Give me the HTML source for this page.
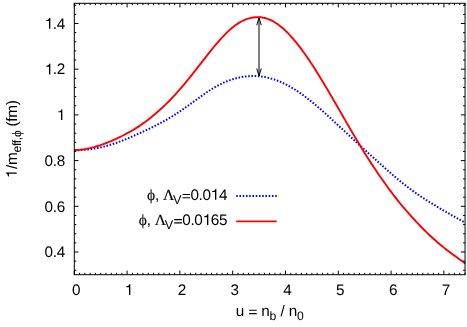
<!DOCTYPE html>
<html><head><meta charset="utf-8">
<style>
html,body{margin:0;padding:0;background:#fff;}
body{width:467px;height:327px;overflow:hidden;}
svg{display:block;will-change:transform;}
text{font-family:"Liberation Sans",sans-serif;font-size:15.3px;fill:#000;text-rendering:geometricPrecision;letter-spacing:-0.28px;}
.sym{font-family:"Liberation Serif",serif;font-size:15.6px;stroke:#000;stroke-width:0.12px;}
.sub{font-size:12.2px;}
.h{fill:none;}
.sub .sym{font-size:12.8px;}
</style></head><body>
<svg width="467" height="327" viewBox="0 0 467 327">
<rect width="467" height="327" fill="#fff"/>
<g>
<text x="65.0" y="257.20" text-anchor="end">0.4</text>
<text x="65.0" y="211.50" text-anchor="end">0.6</text>
<text x="65.0" y="165.80" text-anchor="end">0.8</text>
<text x="65.0" y="120.10" text-anchor="end"><tspan class="h">1</tspan></text>
<text x="65.0" y="74.40" text-anchor="end"><tspan class="h">1</tspan>.2</text>
<text x="65.0" y="28.70" text-anchor="end"><tspan class="h">1</tspan>.4</text>
<text x="76.20" y="294.9" text-anchor="middle">0</text>
<text x="129.00" y="294.9" text-anchor="middle"><tspan class="h">1</tspan></text>
<text x="181.80" y="294.9" text-anchor="middle">2</text>
<text x="234.60" y="294.9" text-anchor="middle">3</text>
<text x="287.40" y="294.9" text-anchor="middle">4</text>
<text x="340.20" y="294.9" text-anchor="middle">5</text>
<text x="393.00" y="294.9" text-anchor="middle">6</text>
<text x="445.80" y="294.9" text-anchor="middle">7</text>

</g>
<text x="269.6" y="315.6" text-anchor="middle" style="word-spacing:0.35px">u <tspan class="h">=</tspan> n<tspan class="sub" dy="4">b</tspan><tspan dy="-4"> / n</tspan><tspan class="sub" dy="4">0</tspan></text>
<text transform="translate(16.7,138.9) rotate(-90)" text-anchor="middle"><tspan class="h">1</tspan>/m<tspan class="sub" dy="4.4">eff,<tspan class="sym">ϕ</tspan></tspan><tspan dy="-4.4"> (fm)</tspan></text>
<text x="227.3" y="199.8" text-anchor="end"><tspan class="h">=</tspan>0.0<tspan class="h">1</tspan>4</text>
<text x="181.2" y="203.9" text-anchor="end" class="sub" style="font-size:12.7px">V</text>
<text x="174.0" y="199.8" text-anchor="end"><tspan class="sym">ϕ</tspan>, <tspan class="sym">Λ</tspan></text>
<text x="227.3" y="224.9" text-anchor="end"><tspan class="h">=</tspan>0.0<tspan class="h">1</tspan>65</text>
<text x="172.97" y="229.0" text-anchor="end" class="sub" style="font-size:12.7px">V</text>
<text x="165.77" y="224.9" text-anchor="end"><tspan class="sym">ϕ</tspan>, <tspan class="sym">Λ</tspan></text>
<path d="M236.2,196.1 H276.9" stroke="#0000ff" stroke-width="2" stroke-dasharray="1.55 1.7" fill="none"/>
<path d="M236.2,221.4 H276.7" stroke="#ff0000" stroke-width="1.9" fill="none"/>
<path d="M74.40,150.25 L76.36,150.25 L78.33,150.20 L80.29,150.13 L82.26,150.01 L84.22,149.86 L86.18,149.68 L88.15,149.47 L90.11,149.22 L92.07,148.94 L94.04,148.63 L96.00,148.29 L97.97,147.92 L99.93,147.52 L101.89,147.09 L103.86,146.62 L105.82,146.11 L107.78,145.56 L109.75,144.98 L111.71,144.37 L113.68,143.72 L115.64,143.05 L117.60,142.35 L119.57,141.62 L121.53,140.88 L123.50,140.11 L125.46,139.33 L127.42,138.54 L129.39,137.72 L131.35,136.89 L133.31,136.04 L135.28,135.17 L137.24,134.28 L139.21,133.38 L141.17,132.48 L143.13,131.58 L145.10,130.66 L147.06,129.74 L149.03,128.81 L150.99,127.87 L152.95,126.91 L154.92,125.94 L156.88,124.95 L158.84,123.94 L160.81,122.91 L162.77,121.85 L164.74,120.77 L166.70,119.66 L168.66,118.52 L170.63,117.35 L172.59,116.14 L174.55,114.91 L176.52,113.65 L178.48,112.35 L180.45,111.03 L182.41,109.69 L184.37,108.32 L186.34,106.94 L188.30,105.54 L190.27,104.12 L192.23,102.70 L194.19,101.27 L196.16,99.84 L198.12,98.42 L200.08,97.01 L202.05,95.61 L204.01,94.23 L205.98,92.88 L207.94,91.55 L209.90,90.27 L211.87,89.02 L213.83,87.82 L215.79,86.68 L217.76,85.59 L219.72,84.55 L221.69,83.58 L223.65,82.68 L225.61,81.84 L227.58,81.05 L229.54,80.32 L231.51,79.64 L233.47,79.02 L235.43,78.45 L237.40,77.95 L239.36,77.50 L241.32,77.11 L243.29,76.78 L245.25,76.51 L247.22,76.29 L249.18,76.14 L251.14,76.05 L253.11,76.02 L255.07,76.05 L257.04,76.13 L259.00,76.28 L260.96,76.49 L262.93,76.76 L264.89,77.09 L266.85,77.48 L268.82,77.93 L270.78,78.45 L272.75,79.02 L274.71,79.66 L276.67,80.36 L278.64,81.12 L280.60,81.93 L282.56,82.81 L284.53,83.74 L286.49,84.73 L288.46,85.78 L290.42,86.88 L292.38,88.03 L294.35,89.24 L296.31,90.49 L298.28,91.79 L300.24,93.14 L302.20,94.53 L304.17,95.96 L306.13,97.43 L308.09,98.94 L310.06,100.49 L312.02,102.06 L313.99,103.67 L315.95,105.31 L317.91,106.98 L319.88,108.67 L321.84,110.39 L323.81,112.12 L325.77,113.88 L327.73,115.66 L329.70,117.45 L331.66,119.26 L333.62,121.08 L335.59,122.90 L337.55,124.72 L339.52,126.55 L341.48,128.37 L343.44,130.20 L345.41,132.03 L347.37,133.85 L349.33,135.67 L351.30,137.49 L353.26,139.31 L355.23,141.12 L357.19,142.93 L359.15,144.74 L361.12,146.54 L363.08,148.34 L365.05,150.14 L367.01,151.93 L368.97,153.71 L370.94,155.49 L372.90,157.26 L374.86,159.03 L376.83,160.80 L378.79,162.56 L380.76,164.31 L382.72,166.06 L384.68,167.81 L386.65,169.55 L388.61,171.28 L390.57,173.00 L392.54,174.70 L394.50,176.39 L396.47,178.06 L398.43,179.70 L400.39,181.32 L402.36,182.91 L404.32,184.47 L406.29,186.01 L408.25,187.51 L410.21,188.97 L412.18,190.41 L414.14,191.83 L416.10,193.21 L418.07,194.57 L420.03,195.91 L422.00,197.22 L423.96,198.51 L425.92,199.78 L427.89,201.03 L429.85,202.26 L431.82,203.47 L433.78,204.67 L435.74,205.85 L437.71,207.03 L439.67,208.19 L441.63,209.35 L443.60,210.50 L445.56,211.64 L447.53,212.78 L449.49,213.92 L451.45,215.04 L453.42,216.16 L455.38,217.27 L457.34,218.38 L459.31,219.49 L461.27,220.59 L463.24,221.69 L465.20,222.79" stroke="#0000ff" stroke-width="2" stroke-dasharray="1.55 1.7" fill="none"/>
<g stroke="#000" stroke-width="1" fill="none">
<path d="M259,17.7 V75.8"/>
<path d="M256.75,25.2 L259,17.7 L261.25,25.2" stroke-linejoin="miter"/>
<path d="M256.75,68.5 L259,75.9 L261.25,68.5" stroke-linejoin="miter"/>
</g>
<path d="M74.40,150.00 L76.36,149.97 L78.33,149.87 L80.29,149.72 L82.26,149.50 L84.22,149.22 L86.18,148.89 L88.15,148.50 L90.11,148.07 L92.07,147.59 L94.04,147.08 L96.00,146.52 L97.97,145.94 L99.93,145.32 L101.89,144.67 L103.86,143.97 L105.82,143.24 L107.78,142.47 L109.75,141.67 L111.71,140.84 L113.68,139.97 L115.64,139.08 L117.60,138.16 L119.57,137.21 L121.53,136.24 L123.50,135.24 L125.46,134.21 L127.42,133.16 L129.39,132.09 L131.35,130.98 L133.31,129.83 L135.28,128.64 L137.24,127.40 L139.21,126.11 L141.17,124.78 L143.13,123.40 L145.10,121.98 L147.06,120.51 L149.03,118.99 L150.99,117.43 L152.95,115.83 L154.92,114.18 L156.88,112.50 L158.84,110.76 L160.81,108.99 L162.77,107.18 L164.74,105.32 L166.70,103.42 L168.66,101.47 L170.63,99.47 L172.59,97.43 L174.55,95.34 L176.52,93.19 L178.48,90.98 L180.45,88.73 L182.41,86.42 L184.37,84.07 L186.34,81.68 L188.30,79.26 L190.27,76.81 L192.23,74.35 L194.19,71.87 L196.16,69.38 L198.12,66.87 L200.08,64.36 L202.05,61.85 L204.01,59.34 L205.98,56.83 L207.94,54.34 L209.90,51.87 L211.87,49.42 L213.83,47.02 L215.79,44.66 L217.76,42.36 L219.72,40.11 L221.69,37.94 L223.65,35.83 L225.61,33.82 L227.58,31.89 L229.54,30.07 L231.51,28.35 L233.47,26.74 L235.43,25.25 L237.40,23.88 L239.36,22.63 L241.32,21.51 L243.29,20.51 L245.25,19.65 L247.22,18.91 L249.18,18.31 L251.14,17.83 L253.11,17.47 L255.07,17.23 L257.04,17.13 L259.00,17.15 L260.96,17.31 L262.93,17.60 L264.89,18.03 L266.85,18.60 L268.82,19.30 L270.78,20.14 L272.75,21.11 L274.71,22.23 L276.67,23.48 L278.64,24.88 L280.60,26.40 L282.56,28.05 L284.53,29.82 L286.49,31.70 L288.46,33.70 L290.42,35.80 L292.38,38.00 L294.35,40.29 L296.31,42.67 L298.28,45.14 L300.24,47.68 L302.20,50.31 L304.17,53.01 L306.13,55.79 L308.09,58.64 L310.06,61.55 L312.02,64.53 L313.99,67.56 L315.95,70.64 L317.91,73.77 L319.88,76.95 L321.84,80.17 L323.81,83.43 L325.77,86.72 L327.73,90.05 L329.70,93.40 L331.66,96.77 L333.62,100.16 L335.59,103.56 L337.55,106.97 L339.52,110.38 L341.48,113.79 L343.44,117.20 L345.41,120.61 L347.37,124.01 L349.33,127.40 L351.30,130.77 L353.26,134.13 L355.23,137.46 L357.19,140.76 L359.15,144.03 L361.12,147.27 L363.08,150.47 L365.05,153.63 L367.01,156.75 L368.97,159.84 L370.94,162.88 L372.90,165.89 L374.86,168.85 L376.83,171.78 L378.79,174.66 L380.76,177.49 L382.72,180.29 L384.68,183.06 L386.65,185.78 L388.61,188.47 L390.57,191.12 L392.54,193.74 L394.50,196.31 L396.47,198.84 L398.43,201.32 L400.39,203.75 L402.36,206.13 L404.32,208.46 L406.29,210.75 L408.25,212.99 L410.21,215.20 L412.18,217.37 L414.14,219.50 L416.10,221.61 L418.07,223.68 L420.03,225.72 L422.00,227.73 L423.96,229.71 L425.92,231.66 L427.89,233.57 L429.85,235.44 L431.82,237.27 L433.78,239.05 L435.74,240.80 L437.71,242.50 L439.67,244.17 L441.63,245.79 L443.60,247.38 L445.56,248.93 L447.53,250.45 L449.49,251.95 L451.45,253.43 L453.42,254.88 L455.38,256.32 L457.34,257.75 L459.31,259.16 L461.27,260.57 L463.24,261.98 L465.20,263.38" stroke="#ff0000" stroke-width="1.9" fill="none" stroke-linejoin="round"/>
<g stroke="#000" stroke-width="1" fill="none" shape-rendering="auto">
<path d="M74.30,274.7 v-4.1"/><path d="M74.30,3.3 v4.1"/><path d="M79.58,274.7 v-1.9"/><path d="M79.58,3.3 v1.9"/><path d="M84.86,274.7 v-1.9"/><path d="M84.86,3.3 v1.9"/><path d="M90.14,274.7 v-1.9"/><path d="M90.14,3.3 v1.9"/><path d="M95.42,274.7 v-1.9"/><path d="M95.42,3.3 v1.9"/><path d="M100.70,274.7 v-1.9"/><path d="M100.70,3.3 v1.9"/><path d="M105.98,274.7 v-1.9"/><path d="M105.98,3.3 v1.9"/><path d="M111.26,274.7 v-1.9"/><path d="M111.26,3.3 v1.9"/><path d="M116.54,274.7 v-1.9"/><path d="M116.54,3.3 v1.9"/><path d="M121.82,274.7 v-1.9"/><path d="M121.82,3.3 v1.9"/><path d="M127.10,274.7 v-4.1"/><path d="M127.10,3.3 v4.1"/><path d="M132.38,274.7 v-1.9"/><path d="M132.38,3.3 v1.9"/><path d="M137.66,274.7 v-1.9"/><path d="M137.66,3.3 v1.9"/><path d="M142.94,274.7 v-1.9"/><path d="M142.94,3.3 v1.9"/><path d="M148.22,274.7 v-1.9"/><path d="M148.22,3.3 v1.9"/><path d="M153.50,274.7 v-1.9"/><path d="M153.50,3.3 v1.9"/><path d="M158.78,274.7 v-1.9"/><path d="M158.78,3.3 v1.9"/><path d="M164.06,274.7 v-1.9"/><path d="M164.06,3.3 v1.9"/><path d="M169.34,274.7 v-1.9"/><path d="M169.34,3.3 v1.9"/><path d="M174.62,274.7 v-1.9"/><path d="M174.62,3.3 v1.9"/><path d="M179.90,274.7 v-4.1"/><path d="M179.90,3.3 v4.1"/><path d="M185.18,274.7 v-1.9"/><path d="M185.18,3.3 v1.9"/><path d="M190.46,274.7 v-1.9"/><path d="M190.46,3.3 v1.9"/><path d="M195.74,274.7 v-1.9"/><path d="M195.74,3.3 v1.9"/><path d="M201.02,274.7 v-1.9"/><path d="M201.02,3.3 v1.9"/><path d="M206.30,274.7 v-1.9"/><path d="M206.30,3.3 v1.9"/><path d="M211.58,274.7 v-1.9"/><path d="M211.58,3.3 v1.9"/><path d="M216.86,274.7 v-1.9"/><path d="M216.86,3.3 v1.9"/><path d="M222.14,274.7 v-1.9"/><path d="M222.14,3.3 v1.9"/><path d="M227.42,274.7 v-1.9"/><path d="M227.42,3.3 v1.9"/><path d="M232.70,274.7 v-4.1"/><path d="M232.70,3.3 v4.1"/><path d="M237.98,274.7 v-1.9"/><path d="M237.98,3.3 v1.9"/><path d="M243.26,274.7 v-1.9"/><path d="M243.26,3.3 v1.9"/><path d="M248.54,274.7 v-1.9"/><path d="M248.54,3.3 v1.9"/><path d="M253.82,274.7 v-1.9"/><path d="M253.82,3.3 v1.9"/><path d="M259.10,274.7 v-1.9"/><path d="M259.10,3.3 v1.9"/><path d="M264.38,274.7 v-1.9"/><path d="M264.38,3.3 v1.9"/><path d="M269.66,274.7 v-1.9"/><path d="M269.66,3.3 v1.9"/><path d="M274.94,274.7 v-1.9"/><path d="M274.94,3.3 v1.9"/><path d="M280.22,274.7 v-1.9"/><path d="M280.22,3.3 v1.9"/><path d="M285.50,274.7 v-4.1"/><path d="M285.50,3.3 v4.1"/><path d="M290.78,274.7 v-1.9"/><path d="M290.78,3.3 v1.9"/><path d="M296.06,274.7 v-1.9"/><path d="M296.06,3.3 v1.9"/><path d="M301.34,274.7 v-1.9"/><path d="M301.34,3.3 v1.9"/><path d="M306.62,274.7 v-1.9"/><path d="M306.62,3.3 v1.9"/><path d="M311.90,274.7 v-1.9"/><path d="M311.90,3.3 v1.9"/><path d="M317.18,274.7 v-1.9"/><path d="M317.18,3.3 v1.9"/><path d="M322.46,274.7 v-1.9"/><path d="M322.46,3.3 v1.9"/><path d="M327.74,274.7 v-1.9"/><path d="M327.74,3.3 v1.9"/><path d="M333.02,274.7 v-1.9"/><path d="M333.02,3.3 v1.9"/><path d="M338.30,274.7 v-4.1"/><path d="M338.30,3.3 v4.1"/><path d="M343.58,274.7 v-1.9"/><path d="M343.58,3.3 v1.9"/><path d="M348.86,274.7 v-1.9"/><path d="M348.86,3.3 v1.9"/><path d="M354.14,274.7 v-1.9"/><path d="M354.14,3.3 v1.9"/><path d="M359.42,274.7 v-1.9"/><path d="M359.42,3.3 v1.9"/><path d="M364.70,274.7 v-1.9"/><path d="M364.70,3.3 v1.9"/><path d="M369.98,274.7 v-1.9"/><path d="M369.98,3.3 v1.9"/><path d="M375.26,274.7 v-1.9"/><path d="M375.26,3.3 v1.9"/><path d="M380.54,274.7 v-1.9"/><path d="M380.54,3.3 v1.9"/><path d="M385.82,274.7 v-1.9"/><path d="M385.82,3.3 v1.9"/><path d="M391.10,274.7 v-4.1"/><path d="M391.10,3.3 v4.1"/><path d="M396.38,274.7 v-1.9"/><path d="M396.38,3.3 v1.9"/><path d="M401.66,274.7 v-1.9"/><path d="M401.66,3.3 v1.9"/><path d="M406.94,274.7 v-1.9"/><path d="M406.94,3.3 v1.9"/><path d="M412.22,274.7 v-1.9"/><path d="M412.22,3.3 v1.9"/><path d="M417.50,274.7 v-1.9"/><path d="M417.50,3.3 v1.9"/><path d="M422.78,274.7 v-1.9"/><path d="M422.78,3.3 v1.9"/><path d="M428.06,274.7 v-1.9"/><path d="M428.06,3.3 v1.9"/><path d="M433.34,274.7 v-1.9"/><path d="M433.34,3.3 v1.9"/><path d="M438.62,274.7 v-1.9"/><path d="M438.62,3.3 v1.9"/><path d="M443.90,274.7 v-4.1"/><path d="M443.90,3.3 v4.1"/><path d="M449.18,274.7 v-1.9"/><path d="M449.18,3.3 v1.9"/><path d="M454.46,274.7 v-1.9"/><path d="M454.46,3.3 v1.9"/><path d="M459.74,274.7 v-1.9"/><path d="M459.74,3.3 v1.9"/><path d="M465.02,274.7 v-1.9"/><path d="M465.02,3.3 v1.9"/><path d="M74.3,270.28 h2.0"/><path d="M465.05,270.28 h-2.0"/><path d="M74.3,261.14 h2.0"/><path d="M465.05,261.14 h-2.0"/><path d="M74.3,252.00 h4.2"/><path d="M465.05,252.00 h-4.2"/><path d="M74.3,242.86 h2.0"/><path d="M465.05,242.86 h-2.0"/><path d="M74.3,233.72 h2.0"/><path d="M465.05,233.72 h-2.0"/><path d="M74.3,224.58 h2.0"/><path d="M465.05,224.58 h-2.0"/><path d="M74.3,215.44 h2.0"/><path d="M465.05,215.44 h-2.0"/><path d="M74.3,206.30 h4.2"/><path d="M465.05,206.30 h-4.2"/><path d="M74.3,197.16 h2.0"/><path d="M465.05,197.16 h-2.0"/><path d="M74.3,188.02 h2.0"/><path d="M465.05,188.02 h-2.0"/><path d="M74.3,178.88 h2.0"/><path d="M465.05,178.88 h-2.0"/><path d="M74.3,169.74 h2.0"/><path d="M465.05,169.74 h-2.0"/><path d="M74.3,160.60 h4.2"/><path d="M465.05,160.60 h-4.2"/><path d="M74.3,151.46 h2.0"/><path d="M465.05,151.46 h-2.0"/><path d="M74.3,142.32 h2.0"/><path d="M465.05,142.32 h-2.0"/><path d="M74.3,133.18 h2.0"/><path d="M465.05,133.18 h-2.0"/><path d="M74.3,124.04 h2.0"/><path d="M465.05,124.04 h-2.0"/><path d="M74.3,114.90 h4.2"/><path d="M465.05,114.90 h-4.2"/><path d="M74.3,105.76 h2.0"/><path d="M465.05,105.76 h-2.0"/><path d="M74.3,96.62 h2.0"/><path d="M465.05,96.62 h-2.0"/><path d="M74.3,87.48 h2.0"/><path d="M465.05,87.48 h-2.0"/><path d="M74.3,78.34 h2.0"/><path d="M465.05,78.34 h-2.0"/><path d="M74.3,69.20 h4.2"/><path d="M465.05,69.20 h-4.2"/><path d="M74.3,60.06 h2.0"/><path d="M465.05,60.06 h-2.0"/><path d="M74.3,50.92 h2.0"/><path d="M465.05,50.92 h-2.0"/><path d="M74.3,41.78 h2.0"/><path d="M465.05,41.78 h-2.0"/><path d="M74.3,32.64 h2.0"/><path d="M465.05,32.64 h-2.0"/><path d="M74.3,23.50 h4.2"/><path d="M465.05,23.50 h-4.2"/><path d="M74.3,14.36 h2.0"/><path d="M465.05,14.36 h-2.0"/><path d="M74.3,5.22 h2.0"/><path d="M465.05,5.22 h-2.0"/>
<rect x="74.3" y="3.3" width="390.75" height="271.4"/>
</g>
<path d="M62.34,120.10 L61.00,120.10 L61.00,112.33 L58.25,112.33 L58.25,111.40 Q60.01,111.28 60.83,110.46 Q61.31,109.94 61.50,109.15 L62.34,109.15 Z" fill="#000"/>
<path d="M50.34,74.40 L49.00,74.40 L49.00,66.63 L46.25,66.63 L46.25,65.70 Q48.01,65.58 48.83,64.76 Q49.31,64.24 49.50,63.45 L50.34,63.45 Z" fill="#000"/>
<path d="M50.34,28.70 L49.00,28.70 L49.00,20.93 L46.25,20.93 L46.25,20.00 Q48.01,19.88 48.83,19.06 Q49.31,18.54 49.50,17.75 L50.34,17.75 Z" fill="#000"/>
<path d="M130.34,294.90 L129.00,294.90 L129.00,287.13 L126.25,287.13 L126.25,286.20 Q128.01,286.08 128.83,285.26 Q129.31,284.74 129.50,283.95 L130.34,283.95 Z" fill="#000"/>
<path d="M249.10,310.30 H256.70 M249.10,313.60 H256.70" stroke="#000" stroke-width="1.10" fill="none"/>
<g transform="translate(16.7,138.9) rotate(-90)"><path d="M-33.59,0.00 L-34.94,0.00 L-34.94,-7.77 L-37.68,-7.77 L-37.68,-8.70 Q-35.93,-8.82 -35.11,-9.64 Q-34.62,-10.16 -34.43,-10.95 L-33.59,-10.95 Z" fill="#000"/></g>
<path d="M182.49,194.50 H190.09 M182.49,197.80 H190.09" stroke="#000" stroke-width="1.10" fill="none"/>
<path d="M216.34,199.80 L215.00,199.80 L215.00,192.03 L212.25,192.03 L212.25,191.10 Q214.01,190.98 214.83,190.16 Q215.31,189.64 215.50,188.85 L216.34,188.85 Z" fill="#000"/>
<path d="M174.25,219.60 H181.85 M174.25,222.90 H181.85" stroke="#000" stroke-width="1.10" fill="none"/>
<path d="M208.34,224.90 L207.00,224.90 L207.00,217.13 L204.25,217.13 L204.25,216.20 Q206.01,216.08 206.83,215.26 Q207.31,214.74 207.50,213.95 L208.34,213.95 Z" fill="#000"/>

</svg>
</body></html>
